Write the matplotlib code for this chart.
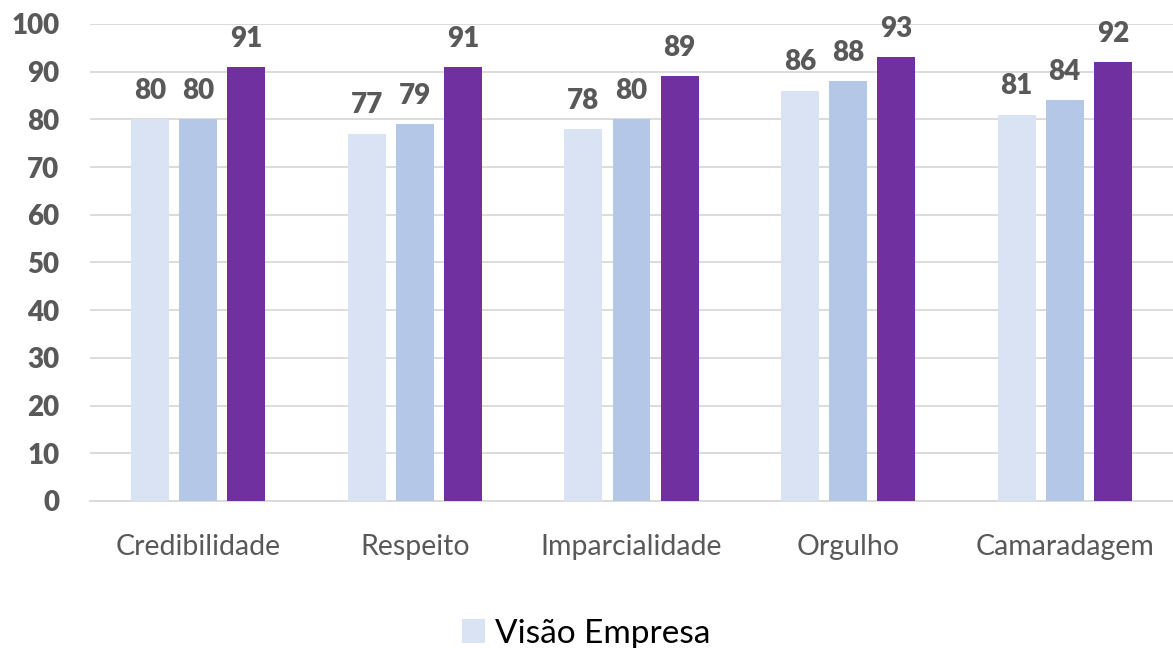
import numpy as np
import matplotlib.pyplot as plt

plt.rcParams['font.family'] = ['Lato', 'DejaVu Sans']

categorias = ['Credibilidade', 'Respeito', 'Imparcialidade', 'Orgulho', 'Camaradagem']
serie1 = [80, 77, 78, 86, 81]
serie2 = [80, 79, 80, 88, 84]
serie3 = [91, 91, 89, 93, 92]
cores = ['#dae3f3', '#b4c7e7', '#7030a0']

fig = plt.figure(figsize=(11.73, 6.48), dpi=100)
ax = fig.add_axes([0.0767, 0.2269, 0.9233, 0.7361])

x = np.arange(len(categorias))
w = 0.175
step = 0.222
cinza = '#595959'

barras = []
for i, (vals, cor) in enumerate(zip([serie1, serie2, serie3], cores)):
    b = ax.bar(x + (i - 1) * step, vals, w, color=cor, zorder=3)
    barras.append(b)
    for xi, v in zip(x + (i - 1) * step, vals):
        ax.text(xi, v + 3.2, str(v), ha='center', va='bottom', fontsize=20,
                fontweight='heavy', color=cinza)

ax.set_xlim(-0.5, 4.5)
ax.set_ylim(0, 100)
ax.set_yticks(range(0, 101, 10))
ax.set_xticks(x)
ax.set_xticklabels(categorias, fontsize=20.5, color=cinza)
for t in ax.get_yticklabels():
    t.set_fontsize(20)
    t.set_fontweight('heavy')
    t.set_color(cinza)
ax.tick_params(length=0)
ax.tick_params(axis='x', pad=24)
ax.tick_params(axis='y', pad=22)
ax.grid(axis='y', color='#d9d9d9', linewidth=1.3, zorder=0)
for s in ['top', 'right', 'left']:
    ax.spines[s].set_visible(False)
ax.spines['bottom'].set_color('#d9d9d9')
ax.spines['bottom'].set_linewidth(1.3)

fig.legend([barras[0]], ['Visão Empresa'], loc='center', bbox_to_anchor=(0.5, 0.022),
           frameon=False, fontsize=24, handlelength=0.7, handleheight=0.7,
           handletextpad=0.3)

fig.savefig('out.png', dpi=100)
